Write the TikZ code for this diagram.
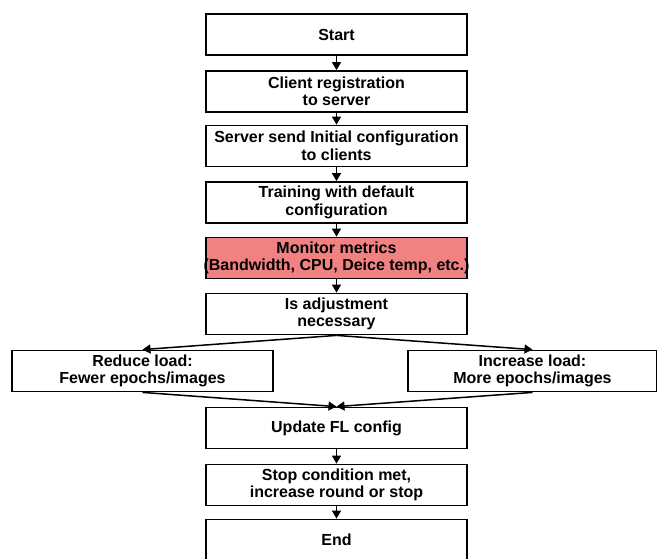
\documentclass[tikz,border=0pt]{standalone}
\usepackage{fontspec}
\setmainfont{Liberation Sans}
\usetikzlibrary{arrows.meta}
\definecolor{monfill}{RGB}{242,130,130}
\begin{document}
\begin{tikzpicture}[x=1pt,y=-1pt,
  box/.style={draw=black,line width=1.8pt,fill=white,minimum width=261pt,minimum height=41pt,
    inner sep=0pt,align=center,font=\fontsize{16}{17.5}\selectfont\bfseries},
  sidebox/.style={box,minimum width=261pt},
  arr/.style={line width=1.5pt,-{Triangle[length=8pt,width=9pt]}}]
\useasboundingbox (0,0) rectangle (657,558);
\node[box] (start) at (336.5,34.5) {Start};
\node[box] (client) at (336.5,91.5) {Client registration\\to server};
\node[box] (server) at (336.5,146) {Server send Initial configuration\\to clients};
\node[box] (train) at (336.5,202.5) {Training with default\\configuration};
\node[box,fill=monfill] (monitor) at (336.5,258) {Monitor metrics\\\makebox[240pt]{(Bandwidth, CPU, Deice temp, etc.)}};
\node[box] (isadj) at (336.5,314) {Is adjustment\\necessary};
\node[sidebox] (reduce) at (142.5,371) {Reduce load:\\Fewer epochs/images};
\node[sidebox,minimum width=249pt] (increase) at (532.5,371) {Increase load:\\More epochs/images};
\node[box] (update) at (336.5,428) {Update FL config};
\node[box] (stop) at (336.5,485) {Stop condition met,\\increase round or stop};
\node[box] (end) at (336.5,540) {End};
\draw[arr] (start) -- (client);
\draw[arr] (client) -- (server);
\draw[arr] (server) -- (train);
\draw[arr] (train) -- (monitor);
\draw[arr] (monitor) -- (isadj);
\draw[arr] (isadj.south) -- (reduce.north);
\draw[arr] (isadj.south) -- (increase.north);
\draw[arr] (reduce.south) -- (update.north);
\draw[arr] (increase.south) -- (update.north);
\draw[arr] (update) -- (stop);
\draw[arr] (stop) -- (end);
\end{tikzpicture}
\end{document}
